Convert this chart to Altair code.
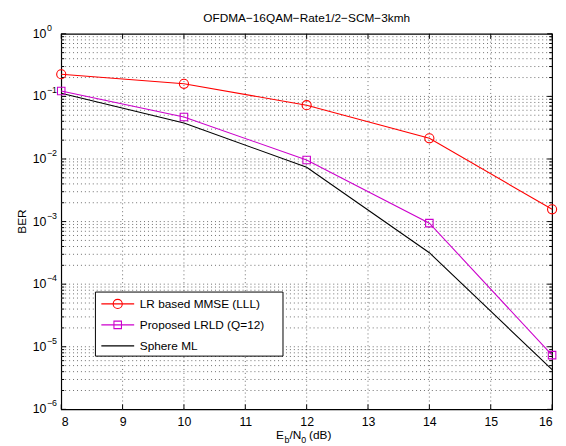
import altair as alt
import pandas as pd

# ---- data ----
snr_db = [8, 10, 12, 14, 16]
ber_lr_mmse = [0.226, 0.159, 0.0724, 0.0214, 0.00157]
ber_lrld = [0.122, 0.0469, 0.00963, 0.000944, 7.36e-6]
ber_sphere = [0.112, 0.0377, 0.00736, 3.18e-4, 4.31e-6]

series_names = ["LR based MMSE (LLL)", "Proposed LRLD (Q=12)", "Sphere ML"]
series_colors = ["#ff0000", "#cc00cc", "#000000"]
series_shapes = ["circle", "square", None]

x_ticks = [8, 9, 10, 11, 12, 13, 14, 15, 16]
y_decades = [1e-6, 1e-5, 1e-4, 1e-3, 1e-2, 1e-1, 1e0]
y_exponents = ["−6", "−5", "−4", "−3", "−2", "−1", "0"]
minor_mult = [2, 3, 4, 5, 6, 7, 8, 9]
title_text = "OFDMA−16QAM−Rate1/2−SCM−3kmh"

W, H = 498, 381
FONT = "Liberation Sans"
GRID = "#6e6e6e"

xscale = alt.Scale(domain=[8, 16], nice=False, zero=False)
yscale = alt.Scale(type="log", domain=[1e-6, 1], nice=False)
x_axis = alt.Axis(values=x_ticks, ticks=False, domain=False, grid=False,
                  labelFontSize=12.5, labelFont=FONT, labelColor="black",
                  labelPadding=6, title=None, format="d")


def X(field):
    return alt.X(field, scale=xscale, axis=x_axis, title=None)


def Y(field):
    return alt.Y(field, scale=yscale, axis=None, title=None)


rows = []
for name, vals in zip(series_names, [ber_lr_mmse, ber_lrld, ber_sphere]):
    for s, b in zip(snr_db, vals):
        rows.append({"series": name, "snr": s, "ber": b})
df = pd.DataFrame(rows)

minor_vals = [m * d for d in y_decades[:-1] for m in minor_mult]
ygrid_df = pd.DataFrame({"v": y_decades[1:-1] + minor_vals})
xgrid_df = pd.DataFrame({"v": x_ticks[1:-1]})
xtick_df = pd.DataFrame({"v": x_ticks})
ymaj_df = pd.DataFrame({"v": y_decades, "e": y_exponents, "b": ["10"] * len(y_decades)})
ymin_df = pd.DataFrame({"v": minor_vals})

layers = []
# grid
layers.append(alt.Chart(ygrid_df).mark_rule(color=GRID, strokeWidth=1, strokeDash=[1, 3]).encode(
    y=Y("v:Q"), x=alt.value(0), x2=alt.value(W)))
layers.append(alt.Chart(xgrid_df).mark_rule(color=GRID, strokeWidth=1, strokeDash=[1, 3]).encode(
    x=X("v:Q"), y=alt.value(0), y2=alt.value(H)))
# ticks (inward)
layers.append(alt.Chart(xtick_df).mark_rule(color="black", strokeWidth=1).encode(
    x=X("v:Q"), y=alt.value(H), y2=alt.value(H - 5)))
layers.append(alt.Chart(xtick_df).mark_rule(color="black", strokeWidth=1).encode(
    x=X("v:Q"), y=alt.value(0), y2=alt.value(5)))
layers.append(alt.Chart(ymaj_df).mark_rule(color="black", strokeWidth=1).encode(
    y=Y("v:Q"), x=alt.value(0), x2=alt.value(5)))
layers.append(alt.Chart(ymaj_df).mark_rule(color="black", strokeWidth=1).encode(
    y=Y("v:Q"), x=alt.value(W - 5), x2=alt.value(W)))
layers.append(alt.Chart(ymin_df).mark_rule(color="black", strokeWidth=1).encode(
    y=Y("v:Q"), x=alt.value(0), x2=alt.value(3)))
layers.append(alt.Chart(ymin_df).mark_rule(color="black", strokeWidth=1).encode(
    y=Y("v:Q"), x=alt.value(W - 3), x2=alt.value(W)))

# y labels 10^k
layers.append(alt.Chart(ymaj_df).mark_text(align="right", baseline="middle", fontSize=12.5,
                                           font=FONT, color="black").encode(
    y=Y("v:Q"), x=alt.value(-15), text="b:N"))
layers.append(alt.Chart(ymaj_df).mark_text(align="left", baseline="middle", fontSize=9,
                                           font=FONT, color="black", dy=-6).encode(
    y=Y("v:Q"), x=alt.value(-14.5), text="e:N"))

# series lines and markers
color_scale = alt.Scale(domain=series_names, range=series_colors)
layers.append(alt.Chart(df).mark_line(strokeWidth=1.1).encode(
    x=X("snr:Q"), y=Y("ber:Q"),
    color=alt.Color("series:N", scale=color_scale, legend=None),
    detail="series:N"))
for name, col, shp in zip(series_names, series_colors, series_shapes):
    if shp is None:
        continue
    size = 85 if shp == "circle" else 58
    layers.append(alt.Chart(df[df.series == name]).mark_point(
        shape=shp, filled=False, color=col, size=size, strokeWidth=1.1, opacity=1).encode(
        x=X("snr:Q"), y=Y("ber:Q")))

# legend (manual, MATLAB style)
one = pd.DataFrame({"k": [0]})
lx0, lx1, ly0, ly1 = 34.7, 225, 262, 327
layers.append(alt.Chart(one).mark_rect(fill="white", stroke="black", strokeWidth=1).encode(
    x=alt.value(lx0), x2=alt.value(lx1), y=alt.value(ly0), y2=alt.value(ly1)))
for i, (name, col, shp) in enumerate(zip(series_names, series_colors, series_shapes)):
    yy = 274 + i * 21.3
    ldf = pd.DataFrame({"t": [name]})
    layers.append(alt.Chart(ldf).mark_rule(color=col, strokeWidth=1.1).encode(
        x=alt.value(40.7), x2=alt.value(74), y=alt.value(yy)))
    if shp is not None:
        size = 85 if shp == "circle" else 58
        layers.append(alt.Chart(ldf).mark_point(shape=shp, filled=False, color=col, size=size,
                                                strokeWidth=1.1, opacity=1).encode(
            x=alt.value(57.3), y=alt.value(yy)))
    layers.append(alt.Chart(ldf).mark_text(align="left", baseline="middle", fontSize=12,
                                           font=FONT, color="black").encode(
        x=alt.value(79.7), y=alt.value(yy), text="t:N"))

# title
layers.append(alt.Chart(pd.DataFrame({"t": [title_text]})).mark_text(
    align="center", baseline="middle", fontSize=12, font=FONT, color="black").encode(
    x=alt.value(W / 2), y=alt.value(-16), text="t:N"))

# y axis title
layers.append(alt.Chart(pd.DataFrame({"t": ["BER"]})).mark_text(
    align="center", baseline="middle", fontSize=12, font=FONT, color="black", angle=270).encode(
    x=alt.value(-40), y=alt.value(H / 2), text="t:N"))

# x axis title E_b/N_0 (dB)
xt_parts = [("E", 12, 0, 218), ("b", 9, 4, 226.5), ("/N", 12, 0, 231.5), ("0", 9, 4, 243.5), ("(dB)", 12, 0, 251.5)]
for txt, fs, dyy, xx in xt_parts:
    layers.append(alt.Chart(pd.DataFrame({"t": [txt]})).mark_text(
        align="left", baseline="alphabetic", fontSize=fs, font=FONT, color="black").encode(
        x=alt.value(xx), y=alt.value(H + 30 + dyy), text="t:N"))

chart = alt.layer(*layers).properties(
    width=W, height=H,
    autosize=alt.AutoSizeParams(type="none"),
    padding={"left": 54, "top": 23, "right": 6, "bottom": 34},
).configure_view(stroke="black", strokeWidth=1.2)

chart.save("out.html", embed_options={"renderer": "svg", "actions": False})
